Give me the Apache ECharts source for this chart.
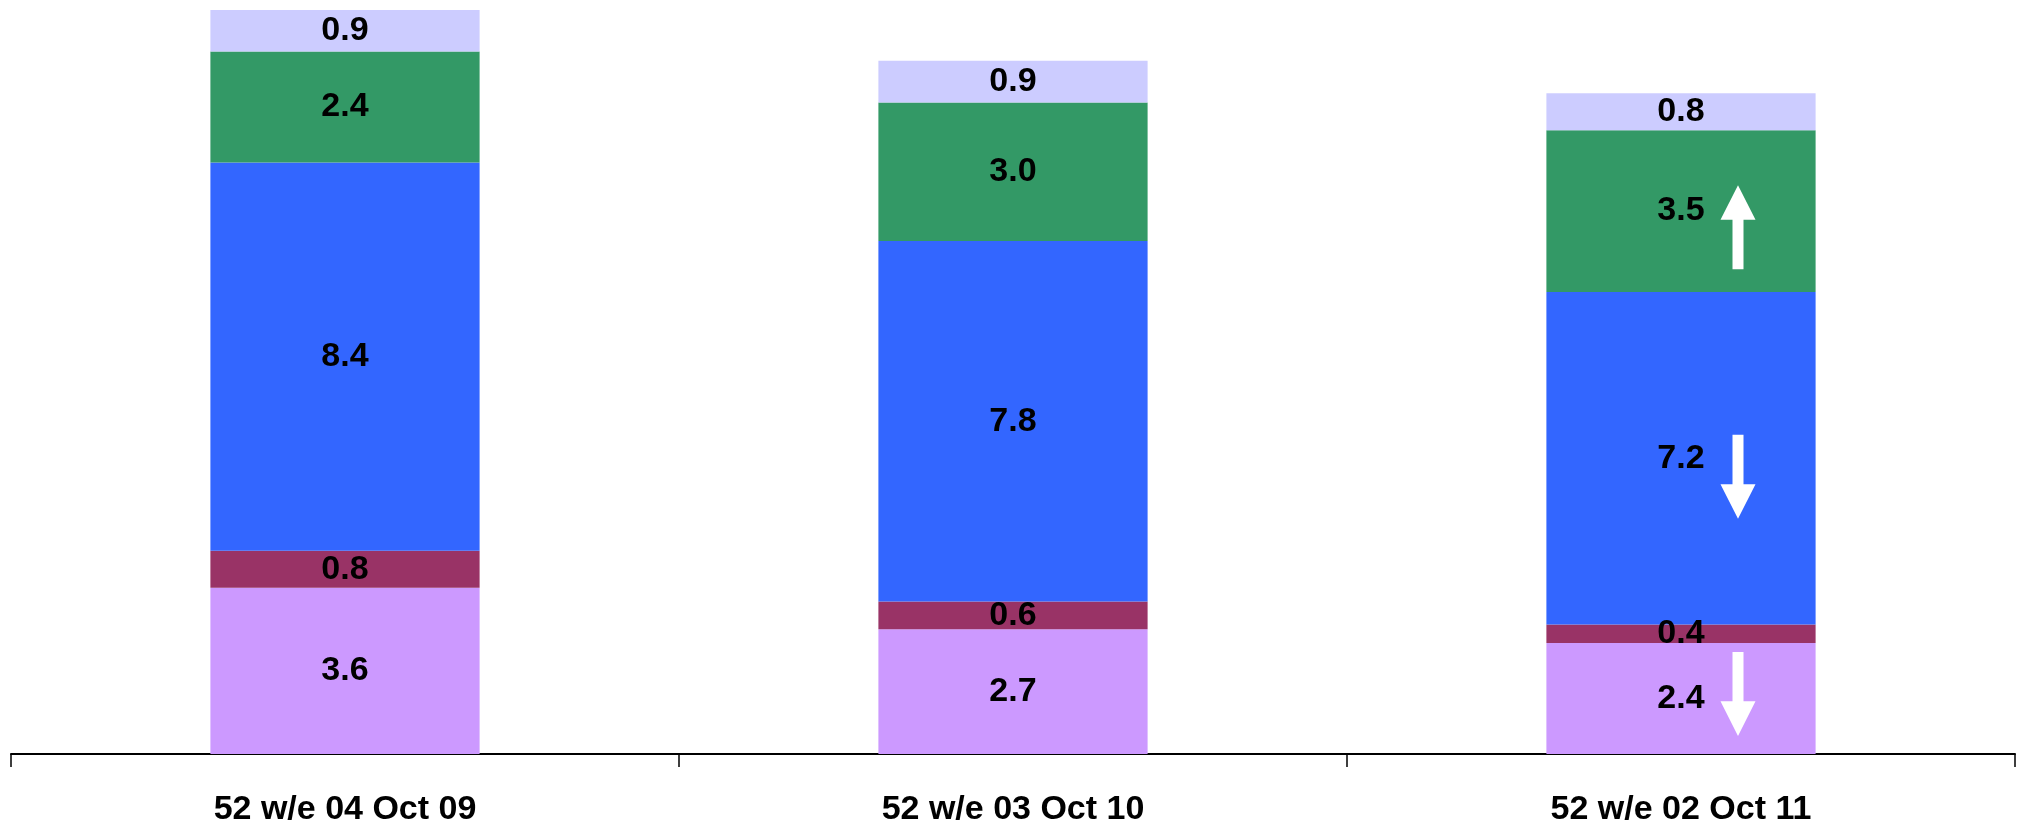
<!DOCTYPE html>
<html>
<head>
<meta charset="utf-8">
<style>
  html, body { margin: 0; padding: 0; background: #ffffff; }
  #chart { width: 2020px; height: 827px; }
</style>
<script src="https://cdn.jsdelivr.net/npm/echarts@6/dist/echarts.min.js"></script>
</head>
<body>
<div id="chart"></div>
<script>
// Periods on the x axis
const categories = ['52 w/e 04 Oct 09', '52 w/e 03 Oct 10', '52 w/e 02 Oct 11'];

// Stacked segments, listed bottom to top
const segmentBottom = [3.6, 2.7, 2.4];
const segmentSecond = [0.8, 0.6, 0.4];
const segmentMiddle = [8.4, 7.8, 7.2];
const segmentFourth = [2.4, 3.0, 3.5];
const segmentTop    = [0.9, 0.9, 0.8];

// Trend arrows: category index, value at the arrow's centre, direction
const arrowCategory = [2, 2, 2];
const arrowValue    = [11.4, 6.0, 1.3];
const arrowRotation = [0, 180, 180];

const colors = ['#CC99FF', '#993366', '#3366FF', '#339966', '#CCCCFF'];
const stackData = [segmentBottom, segmentSecond, segmentMiddle, segmentFourth, segmentTop];

const labelFont = {
  show: true,
  position: 'inside',
  color: '#000000',
  fontFamily: 'Liberation Sans, Arial, sans-serif',
  fontWeight: 'bold',
  fontSize: 34,
  formatter: p => p.value.toFixed(1)
};

const barSeries = stackData.map((values, i) => ({
  type: 'bar',
  stack: 'total',
  barWidth: '40.3%',
  data: values,
  itemStyle: { color: colors[i] },
  label: labelFont,
  emphasis: { disabled: true }
}));

const upArrow = 'path://M17.5,0 L35,34.6 L23,34.6 L23,84 L12,84 L12,34.6 L0,34.6 Z';

const arrowSeries = {
  type: 'scatter',
  z: 10,
  symbol: upArrow,
  symbolSize: [35, 84],
  symbolOffset: [57, 0],
  itemStyle: { color: '#ffffff', opacity: 1 },
  data: arrowCategory.map((c, i) => ({
    value: [c, arrowValue[i]],
    symbolRotate: arrowRotation[i]
  })),
  emphasis: { disabled: true },
  silent: true
};

const chart = echarts.init(document.getElementById('chart'));
chart.setOption({
  animation: false,
  backgroundColor: '#ffffff',
  grid: { left: 11, right: 5, top: 10, bottom: 71, containLabel: false },
  xAxis: {
    type: 'category',
    data: categories,
    axisLine: { lineStyle: { color: '#000000', width: 2 } },
    axisTick: { show: true, length: 13, lineStyle: { color: '#000000', width: 1.5 } },
    axisLabel: {
      margin: 39,
      color: '#000000',
      fontFamily: 'Liberation Sans, Arial, sans-serif',
      fontWeight: 'bold',
      fontSize: 34
    }
  },
  yAxis: {
    type: 'value',
    min: 0,
    max: 16.1,
    show: false,
    splitLine: { show: false }
  },
  series: [...barSeries, arrowSeries]
});
</script>
</body>
</html>
